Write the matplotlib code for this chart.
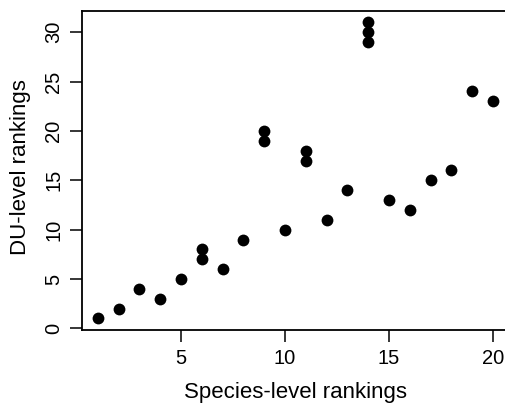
import matplotlib
matplotlib.use("Agg")
import matplotlib.pyplot as plt

# Species-level vs DU-level rankings
species_rank = [1, 2, 3, 4, 5, 6, 6, 7, 8, 9, 9, 10, 11, 11, 12, 13,
                14, 14, 14, 15, 16, 17, 18, 19, 20]
du_rank = [1, 2, 4, 3, 5, 7, 8, 6, 9, 19, 20, 10, 17, 18, 11, 14,
           29, 30, 31, 13, 12, 15, 16, 24, 23]

x_ticks = [5, 10, 15, 20]
y_ticks = [0, 5, 10, 15, 20, 25, 30]

plt.rcParams["font.family"] = ["Liberation Sans", "DejaVu Sans"]

fig = plt.figure(figsize=(5.06, 4.07), dpi=100)
ax = fig.add_axes([0.162, 0.1885, 0.8435, 0.7855])

ax.plot(species_rank, du_rank, "o", color="black", markersize=8.5,
        markeredgewidth=0)

ax.set_xlim(0.24, 20.76)
ax.set_ylim(-0.2, 32.2)
ax.set_xticks(x_ticks)
ax.set_yticks(y_ticks)
ax.tick_params(direction="out", length=8.5, width=1.1, labelsize=14.5, pad=5)
for lab in ax.get_yticklabels():
    lab.set_rotation(90)
    lab.set_va("center")

for s in ax.spines.values():
    s.set_linewidth(1.3)

ax.set_xlabel("Species-level rankings", fontsize=16)
ax.set_ylabel("DU-level rankings", fontsize=16)
ax.xaxis.set_label_coords(0.5, -0.196)
ax.yaxis.set_label_coords(-0.145, 0.51)
ax.xaxis.label.set_va("center")
ax.yaxis.label.set_va("center")

fig.savefig("out.png", dpi=100)
